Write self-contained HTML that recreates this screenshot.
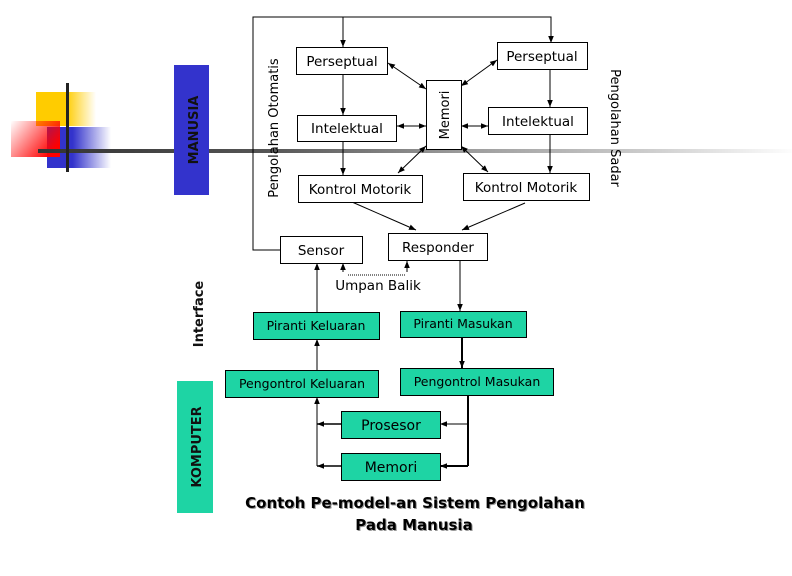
<!DOCTYPE html>
<html><head><meta charset="utf-8"><style>
body{margin:0;background:#fff}
svg{display:block}
text{font-family:"DejaVu Sans","Liberation Sans",sans-serif}
</style></head><body>
<svg width="792" height="576" viewBox="0 0 792 576" xmlns="http://www.w3.org/2000/svg">
<defs>
<linearGradient id="gy" x1="0" x2="1"><stop offset="0.5" stop-color="#ffcc00"/><stop offset="1" stop-color="#ffcc00" stop-opacity="0"/></linearGradient>
<linearGradient id="gb" x1="0" x2="1"><stop offset="0.4" stop-color="#3333cc"/><stop offset="1" stop-color="#3333cc" stop-opacity="0"/></linearGradient>
<linearGradient id="gr" x1="0" x2="1" y1="0" y2="0.6"><stop offset="0" stop-color="#ff0000" stop-opacity="0"/><stop offset="1" stop-color="#ff0000"/></linearGradient>
<linearGradient id="gl" x1="0" x2="1"><stop offset="0" stop-color="#333"/><stop offset="0.3" stop-color="#555"/><stop offset="0.55" stop-color="#999"/><stop offset="0.8" stop-color="#ccc"/><stop offset="1" stop-color="#fff"/></linearGradient>
<marker id="a" viewBox="0 0 10 10" refX="10" refY="5" markerUnits="userSpaceOnUse" markerWidth="7" markerHeight="7" orient="auto-start-reverse"><path d="M0,1 L10,5 L0,9z" fill="#000"/></marker>
</defs>
<!-- decoration -->
<rect x="36" y="92" width="60" height="34" fill="url(#gy)"/>
<rect x="47" y="127" width="64" height="41" fill="url(#gb)"/>
<rect x="11" y="121" width="49" height="36" fill="url(#gr)"/>
<rect x="38" y="149" width="760" height="4" fill="url(#gl)"/>
<rect x="66" y="83" width="3" height="89" fill="#222"/>
<rect x="174" y="65" width="35" height="130" fill="#3333cc"/>
<text transform="translate(198,130) rotate(-90)" text-anchor="middle" font-size="13" font-weight="bold" fill="#111">MANUSIA</text>
<rect x="177" y="381" width="36" height="132" fill="#1ed4a4"/>
<text transform="translate(201,447) rotate(-90)" text-anchor="middle" font-size="13" font-weight="bold" fill="#111">KOMPUTER</text>
<text transform="translate(203,314) rotate(-90)" text-anchor="middle" font-size="13" font-weight="bold" fill="#111">Interface</text>
<text transform="translate(278,128) rotate(-90)" text-anchor="middle" font-size="13">Pengolahan Otomatis</text>
<text transform="translate(611,128) rotate(90)" text-anchor="middle" font-size="13">Pengolahan Sadar</text>
<g fill="none" stroke="#000" stroke-width="1">
<polyline points="280,250 253,250 253,17 551,17 551,43" marker-end="url(#a)"/>
<line x1="343" y1="17" x2="343" y2="47" marker-end="url(#a)"/>
<line x1="343" y1="74" x2="343" y2="115" marker-end="url(#a)"/>
<line x1="343" y1="141" x2="343" y2="175" marker-end="url(#a)"/>
<line x1="550" y1="69" x2="550" y2="107" marker-end="url(#a)"/>
<line x1="550" y1="134" x2="550" y2="173" marker-end="url(#a)"/>
<line x1="388" y1="63" x2="426" y2="89" marker-start="url(#a)" marker-end="url(#a)"/>
<line x1="397" y1="126" x2="426" y2="126" marker-start="url(#a)" marker-end="url(#a)"/>
<line x1="398" y1="173" x2="426" y2="146" marker-start="url(#a)" marker-end="url(#a)"/>
<line x1="461" y1="86" x2="497" y2="60" marker-start="url(#a)" marker-end="url(#a)"/>
<line x1="461" y1="126" x2="488" y2="126" marker-start="url(#a)" marker-end="url(#a)"/>
<line x1="461" y1="146" x2="488" y2="172" marker-start="url(#a)" marker-end="url(#a)"/>
<line x1="352" y1="202" x2="416" y2="230" marker-end="url(#a)"/>
<line x1="525" y1="203" x2="462" y2="230" marker-end="url(#a)"/>
<line x1="317" y1="312" x2="317" y2="263" marker-end="url(#a)"/>
<line x1="343" y1="272" x2="343" y2="263" marker-end="url(#a)"/>
<line x1="407" y1="272" x2="407" y2="261" marker-end="url(#a)"/>
<line x1="348" y1="275" x2="405" y2="275" stroke-dasharray="1,1"/>
<line x1="460" y1="260" x2="460" y2="311" marker-end="url(#a)"/>
<line x1="462" y1="337" x2="462" y2="368" stroke-width="2" marker-end="url(#a)"/>
<line x1="317" y1="370" x2="317" y2="339" marker-end="url(#a)"/>
<polyline points="317,466 317,397" marker-end="url(#a)"/>
<line x1="341" y1="424" x2="317" y2="424" stroke-width="1.5" marker-end="url(#a)"/>
<line x1="341" y1="466" x2="317" y2="466" stroke-width="1.5" marker-end="url(#a)"/>
<polyline points="468,395 468,466" stroke-width="2"/>
<line x1="468" y1="424" x2="440" y2="424" marker-end="url(#a)"/>
<line x1="468" y1="466" x2="440" y2="466" stroke-width="2" marker-end="url(#a)"/>
</g>
<g stroke="#000" stroke-width="1" fill="#fff">
<rect x="296.5" y="47.5" width="91" height="27"/>
<rect x="297.5" y="115.5" width="99" height="26"/>
<rect x="298.5" y="175.5" width="124" height="27"/>
<rect x="426.5" y="80.5" width="35" height="69"/>
<rect x="497.5" y="42.5" width="90" height="27"/>
<rect x="488.5" y="107.5" width="99" height="27"/>
<rect x="463.5" y="173.5" width="126" height="27"/>
<rect x="388.5" y="233.5" width="99" height="27"/>
<rect x="280.5" y="236.5" width="82" height="27"/>
</g>
<g stroke="#000" stroke-width="1" fill="#1ed4a4">
<rect x="253.5" y="312.5" width="126" height="27"/>
<rect x="400.5" y="311.5" width="126" height="26"/>
<rect x="225.5" y="370.5" width="153" height="27"/>
<rect x="400.5" y="368.5" width="153" height="27"/>
<rect x="341.5" y="411.5" width="99" height="27"/>
<rect x="341.5" y="453.5" width="99" height="27"/>
</g>
<g font-size="13.5" fill="#000" text-anchor="middle">
<text x="342" y="66">Perseptual</text>
<text x="347" y="133">Intelektual</text>
<text x="360" y="194">Kontrol Motorik</text>
<text x="542" y="61">Perseptual</text>
<text x="538" y="126">Intelektual</text>
<text x="526" y="192">Kontrol Motorik</text>
<text x="438" y="252">Responder</text>
<text x="321" y="255">Sensor</text>
<text x="378" y="290">Umpan Balik</text>
<text transform="translate(449,115) rotate(-90)" font-size="13">Memori</text>
</g>
<g font-size="12.5" fill="#000" text-anchor="middle">
<text x="316" y="330">Piranti Keluaran</text>
<text x="463" y="328">Piranti Masukan</text>
<text x="302" y="388">Pengontrol Keluaran</text>
<text x="477" y="386">Pengontrol Masukan</text>
<text x="391" y="430" font-size="14">Prosesor</text>
<text x="391" y="472" font-size="14">Memori</text>
</g>
<g font-size="15" font-weight="bold" text-anchor="middle">
<text x="416" y="509" fill="#999">Contoh Pe-model-an Sistem Pengolahan</text>
<text x="415" y="508" fill="#000">Contoh Pe-model-an Sistem Pengolahan</text>
<text x="415" y="531" fill="#999">Pada Manusia</text>
<text x="414" y="530" fill="#000">Pada Manusia</text>
</g>
</svg>
</body></html>
